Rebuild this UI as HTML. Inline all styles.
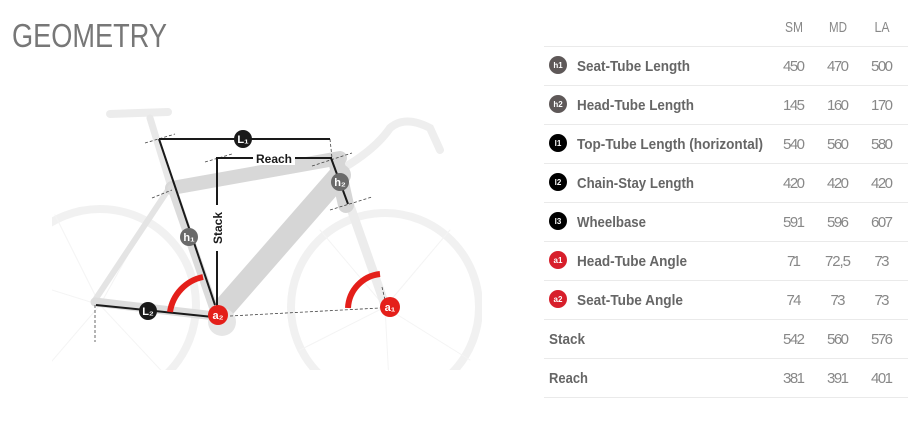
<!DOCTYPE html>
<html><head><meta charset="utf-8"><style>
html,body{margin:0;padding:0;background:#fff;width:913px;height:429px;overflow:hidden}
svg{display:block}
text{font-family:"Liberation Sans",sans-serif}
.lb{font-size:15px;font-weight:bold;fill:#666}
.v{font-size:15px;fill:#888;text-anchor:middle}
.hd{font-size:15px;fill:#888;text-anchor:middle}
.ic{font-size:8px;fill:#fff;text-anchor:middle;font-weight:bold}
</style></head><body>
<svg width="913" height="429" viewBox="0 0 913 429">
<defs><clipPath id="c"><rect x="52" y="90" width="430" height="280"/></clipPath></defs>
<text x="12" y="47" font-size="33" fill="#777" textLength="155" lengthAdjust="spacingAndGlyphs">GEOMETRY</text>

<g fill="none" stroke-linecap="round" clip-path="url(#c)">
 <circle cx="100" cy="305" r="96" stroke="#f1f1f1" stroke-width="8"/>
 <circle cx="385" cy="307" r="94" stroke="#f1f1f1" stroke-width="8"/>
 <g stroke="#f4f4f4" stroke-width="1">
  <line x1="100" y1="305" x2="55" y2="215"/><line x1="100" y1="305" x2="20" y2="280"/><line x1="100" y1="305" x2="40" y2="375"/><line x1="100" y1="305" x2="150" y2="215"/><line x1="100" y1="305" x2="170" y2="380"/>
  <line x1="385" y1="307" x2="320" y2="230"/><line x1="385" y1="307" x2="450" y2="230"/><line x1="385" y1="307" x2="300" y2="350"/><line x1="385" y1="307" x2="470" y2="360"/><line x1="385" y1="307" x2="390" y2="400"/>
 </g>
 <path d="M110 114 L168 112" stroke="#ececec" stroke-width="8"/>
 <path d="M150 118 L172 190" stroke="#e8e8e8" stroke-width="7"/>
 <path d="M340 170 Q375 150 390 128 Q405 115 430 128 L440 150" stroke="#eeeeee" stroke-width="8"/>
 <path d="M348 200 L385 305" stroke="#ececec" stroke-width="9"/>
 <path d="M168 190 L95 300" stroke="#e4e4e4" stroke-width="6"/>
 <path d="M95 302 L215 316" stroke="#dddddd" stroke-width="9"/>
 <path d="M172 188 L340 158" stroke="#d8d8d8" stroke-width="14"/>
 <path d="M340 175 L222 310" stroke="#d6d6d6" stroke-width="22"/>
 <path d="M336 160 L346 205" stroke="#d6d6d6" stroke-width="16"/>
 <path d="M172 188 L215 312" stroke="#dcdcdc" stroke-width="9"/>
 <circle cx="222" cy="322" r="14" fill="#e6e6e6" stroke="none"/>
</g>

<g stroke="#444" stroke-width="0.8" stroke-dasharray="3,2" fill="none">
 <line x1="145" y1="143" x2="175" y2="134"/>
 <line x1="205" y1="162" x2="232" y2="154"/>
 <line x1="152" y1="198" x2="172" y2="190"/>
 <line x1="330" y1="139" x2="332" y2="158"/>
 <line x1="312" y1="166" x2="352" y2="153"/>
 <line x1="330" y1="210" x2="372" y2="197"/>
 <line x1="230" y1="316" x2="380" y2="308"/>
 <line x1="95" y1="305" x2="95" y2="342"/>
 <line x1="382" y1="287" x2="385" y2="300"/>
</g>

<g stroke="#1a1a1a" stroke-width="2" fill="none">
 <line x1="159" y1="139" x2="330" y2="139"/>
 <polyline points="217,312 217,158 332,158"/>
 <line x1="159" y1="139" x2="215" y2="305"/>
 <line x1="331" y1="158" x2="348" y2="204"/>
 <line x1="96" y1="305" x2="213" y2="317"/>
</g>
<rect x="253" y="151" width="42" height="14" fill="#fff"/>
<text x="274" y="163" font-size="12" font-weight="bold" fill="#1a1a1a" text-anchor="middle">Reach</text>
<rect x="210" y="205" width="14" height="46" fill="#fff"/>
<text transform="translate(222,228) rotate(-90)" font-size="12" font-weight="bold" fill="#1a1a1a" text-anchor="middle">Stack</text>

<g stroke="#e41f1a" stroke-width="6" fill="none">
 <path d="M170 312 A42 42 0 0 1 203 277"/>
 <path d="M348 308 A36 36 0 0 1 380 274"/>
</g>

<g font-weight="bold" font-size="11" text-anchor="middle">
 <circle cx="243" cy="139" r="9" fill="#1a1a1a"/><text x="243" y="143" fill="#fff">L₁</text>
 <circle cx="189" cy="237" r="9" fill="#6a6a6a"/><text x="189" y="241" fill="#fff">h₁</text>
 <circle cx="340" cy="182" r="9" fill="#6a6a6a"/><text x="340" y="186" fill="#fff">h₂</text>
 <circle cx="148" cy="311" r="9" fill="#1a1a1a"/><text x="148" y="315" fill="#fff">L₂</text>
 <circle cx="218" cy="315" r="10" fill="#e41f1a"/><text x="218" y="319" fill="#fff">a₂</text>
 <circle cx="390" cy="307" r="10" fill="#e41f1a"/><text x="390" y="311" fill="#fff">a₁</text>
</g>

<text class="hd" x="794" y="32" textLength="18" lengthAdjust="spacingAndGlyphs">SM</text><text class="hd" x="838" y="32" textLength="18" lengthAdjust="spacingAndGlyphs">MD</text><text class="hd" x="882" y="32" textLength="15" lengthAdjust="spacingAndGlyphs">LA</text>
<g stroke="#eaeaea" stroke-width="1">
 <line x1="544" y1="46.5" x2="908" y2="46.5"/><line x1="544" y1="85.5" x2="908" y2="85.5"/><line x1="544" y1="124.5" x2="908" y2="124.5"/><line x1="544" y1="163.5" x2="908" y2="163.5"/><line x1="544" y1="202.5" x2="908" y2="202.5"/><line x1="544" y1="241.5" x2="908" y2="241.5"/><line x1="544" y1="280.5" x2="908" y2="280.5"/><line x1="544" y1="319.5" x2="908" y2="319.5"/><line x1="544" y1="358.5" x2="908" y2="358.5"/><line x1="544" y1="397.5" x2="908" y2="397.5"/>
</g>
<g>
 <circle cx="558" cy="65" r="9" fill="#5e5858"/><text class="ic" x="558" y="68">h1</text>
 <circle cx="558" cy="104" r="9" fill="#5e5858"/><text class="ic" x="558" y="107">h2</text>
 <circle cx="558" cy="143" r="9" fill="#000"/><text class="ic" x="558" y="146">l1</text>
 <circle cx="558" cy="182" r="9" fill="#000"/><text class="ic" x="558" y="185">l2</text>
 <circle cx="558" cy="221" r="9" fill="#000"/><text class="ic" x="558" y="224">l3</text>
 <circle cx="558" cy="260" r="9" fill="#d71f2b"/><text class="ic" x="558" y="263">a1</text>
 <circle cx="558" cy="299" r="9" fill="#d71f2b"/><text class="ic" x="558" y="302">a2</text>
</g>
<text class="lb" x="577" y="71" textLength="113" lengthAdjust="spacingAndGlyphs">Seat-Tube Length</text>
<text class="lb" x="577" y="110" textLength="117" lengthAdjust="spacingAndGlyphs">Head-Tube Length</text>
<text class="lb" x="577" y="149" textLength="186" lengthAdjust="spacingAndGlyphs">Top-Tube Length (horizontal)</text>
<text class="lb" x="577" y="188" textLength="117" lengthAdjust="spacingAndGlyphs">Chain-Stay Length</text>
<text class="lb" x="577" y="227" textLength="69" lengthAdjust="spacingAndGlyphs">Wheelbase</text>
<text class="lb" x="577" y="266" textLength="110" lengthAdjust="spacingAndGlyphs">Head-Tube Angle</text>
<text class="lb" x="577" y="305" textLength="106" lengthAdjust="spacingAndGlyphs">Seat-Tube Angle</text>
<text class="lb" x="549" y="344" textLength="36" lengthAdjust="spacingAndGlyphs">Stack</text>
<text class="lb" x="549" y="383" textLength="39" lengthAdjust="spacingAndGlyphs">Reach</text>
<g lengthAdjust="spacingAndGlyphs">
 <text class="v" x="794" y="71" textLength="22">450</text><text class="v" x="838" y="71" textLength="22">470</text><text class="v" x="882" y="71" textLength="22">500</text>
 <text class="v" x="794" y="110" textLength="22">145</text><text class="v" x="838" y="110" textLength="22">160</text><text class="v" x="882" y="110" textLength="22">170</text>
 <text class="v" x="794" y="149" textLength="22">540</text><text class="v" x="838" y="149" textLength="22">560</text><text class="v" x="882" y="149" textLength="22">580</text>
 <text class="v" x="794" y="188" textLength="22">420</text><text class="v" x="838" y="188" textLength="22">420</text><text class="v" x="882" y="188" textLength="22">420</text>
 <text class="v" x="794" y="227" textLength="22">591</text><text class="v" x="838" y="227" textLength="22">596</text><text class="v" x="882" y="227" textLength="22">607</text>
 <text class="v" x="794" y="266" textLength="14">71</text><text class="v" x="838" y="266" textLength="26">72,5</text><text class="v" x="882" y="266" textLength="15">73</text>
 <text class="v" x="794" y="305" textLength="15">74</text><text class="v" x="838" y="305" textLength="15">73</text><text class="v" x="882" y="305" textLength="15">73</text>
 <text class="v" x="794" y="344" textLength="22">542</text><text class="v" x="838" y="344" textLength="22">560</text><text class="v" x="882" y="344" textLength="22">576</text>
 <text class="v" x="794" y="383" textLength="22">381</text><text class="v" x="838" y="383" textLength="22">391</text><text class="v" x="882" y="383" textLength="22">401</text>
</g>
</svg>
</body></html>
